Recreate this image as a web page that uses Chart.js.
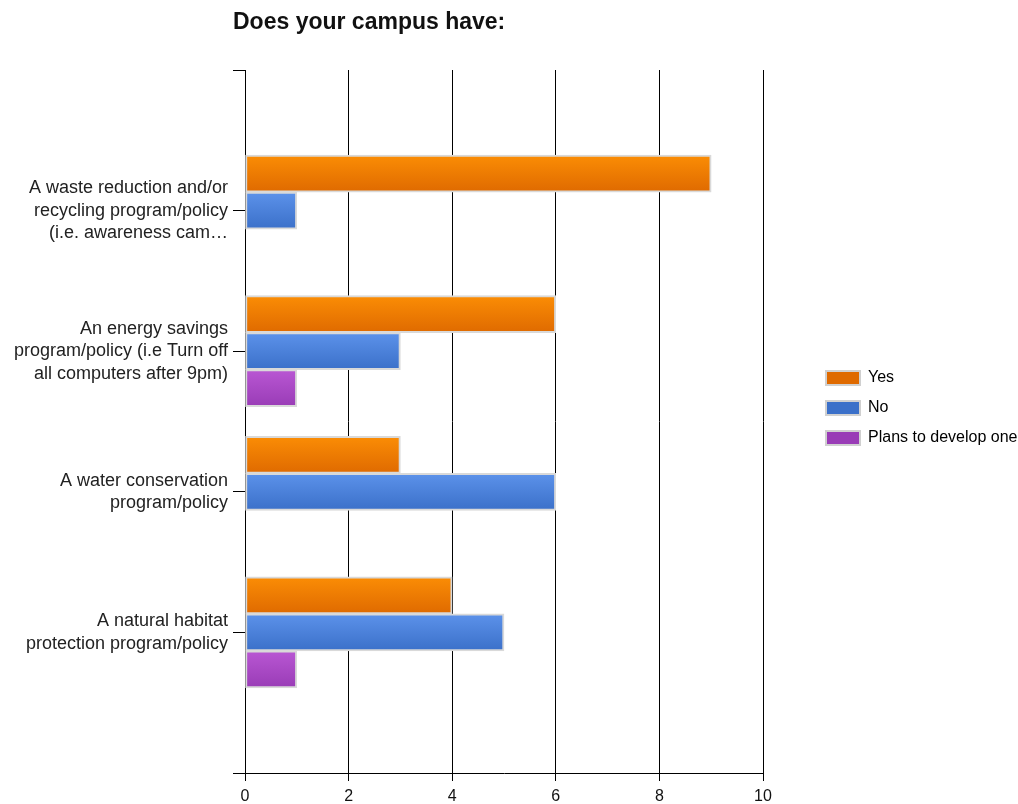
<!DOCTYPE html>
<html>
<head>
<meta charset="utf-8">
<title>Does your campus have:</title>
<script src="https://cdn.jsdelivr.net/npm/chart.js@4.4.1/dist/chart.umd.min.js"></script>
<style>
    html, body { margin: 0; padding: 0; background: #fff; }
    #wrap { position: relative; width: 1018px; height: 804px; }
</style>
</head>
<body>
<div id="wrap"><canvas id="canvas_grafico"></canvas></div>
<script>
const chartTitle = 'Does your campus have:';

const programas = [
    ['A waste reduction and/or', 'recycling program/policy', '(i.e. awareness cam…'],
    ['An energy savings', 'program/policy (i.e Turn off', 'all computers after 9pm)'],
    ['A water conservation', 'program/policy'],
    ['A natural habitat', 'protection program/policy']
];

const seriesNames = ['Yes', 'No', 'Plans to develop one'];
const yesCounts = [9, 6, 3, 4];
const noCounts = [1, 3, 6, 5];
const plansCounts = [0, 1, 0, 1];

const xTickMin = 0;
const xTickMax = 10;
const xTickStep = 2;

// top / bottom colour of each bar gradient
const barColors = [
    ['#fb8d05', '#df6a00'],   // Yes
    ['#5c92ea', '#3b70c9'],   // No
    ['#b957d3', '#993cb6']    // Plans to develop one
];

const BAR_H = 37;
const FONT = '"Liberation Sans", Arial, sans-serif';

// empty slots above and below so the ticks land on the plot edges
const labels = [''].concat(programas, ['']);
function pad(values) {
    return [null].concat(values, [null]);
}

function barFill(index) {
    const top = barColors[index][0];
    const bottom = barColors[index][1];
    return function(c) {
        const ys = c.chart.scales.y;
        if (!ys || c.dataIndex === undefined) {
            return bottom;
        }
        const center = ys.getPixelForValue(c.dataIndex) + (c.datasetIndex - 1) * BAR_H;
        const g = c.chart.ctx.createLinearGradient(0, center - BAR_H / 2, 0, center + BAR_H / 2);
        g.addColorStop(0, top);
        g.addColorStop(1, bottom);
        return g;
    };
}

const tituloPlugin = {
    id: 'tituloEsquerda',
    afterDraw(chart) {
        const ctx = chart.ctx;
        ctx.save();
        ctx.font = 'bold 23px ' + FONT;
        ctx.fillStyle = '#111';
        ctx.textAlign = 'left';
        ctx.textBaseline = 'alphabetic';
        ctx.fillText(chartTitle, chart.chartArea.left - 12, 29);
        ctx.restore();
    }
};

// pushes the legend away from the plot, towards the right edge
const legendaPlugin = {
    id: 'legendaDireita',
    afterLayout(chart) {
        const lg = chart.legend;
        if (!lg) return;
        const w = lg.right - lg.left;
        lg.left = 812;
        lg.right = lg.left + w;
    }
};

const allCounts = [yesCounts, noCounts, plansCounts];

const ctx = document.getElementById('canvas_grafico').getContext('2d');
new Chart(ctx, {
    type: 'bar',
    data: {
        labels: labels,
        datasets: seriesNames.map(function(name, i) {
            return {
                label: name,
                data: pad(allCounts[i]),
                backgroundColor: barFill(i),
                borderColor: '#d9d9d9',
                borderWidth: 2,
                borderSkipped: false,
                barThickness: BAR_H
            };
        })
    },
    options: {
        indexAxis: 'y',
        responsive: true,
        maintainAspectRatio: false,
        animation: false,
        layout: {
            padding: { top: 12, left: 0, right: 0, bottom: 0 }
        },
        scales: {
            x: {
                min: xTickMin,
                max: xTickMax,
                afterFit: function(scale) {
                    // room for the title above and the legend on the right
                    scale.height = 31;
                    scale.paddingTop = 70;
                    scale.paddingRight = 255;
                },
                ticks: {
                    stepSize: xTickStep,
                    color: '#111',
                    padding: 6,
                    font: { size: 16, family: FONT }
                },
                grid: {
                    color: '#000',
                    lineWidth: 1,
                    tickLength: 8
                },
                border: { color: '#000', width: 1 }
            },
            y: {
                offset: false,
                z: 1,
                afterFit: function(scale) {
                    scale.width = 245;
                },
                ticks: {
                    color: '#222',
                    padding: 5,
                    autoSkip: false,
                    font: { size: 18, family: FONT, lineHeight: 1.25 }
                },
                grid: {
                    offset: false,
                    drawOnChartArea: false,
                    color: '#000',
                    tickLength: 12
                },
                border: { color: '#000', width: 1 }
            }
        },
        plugins: {
            title: { display: false },
            tooltip: { enabled: false },
            legend: {
                display: true,
                position: 'right',
                fullSize: true,
                labels: {
                    boxWidth: 34,
                    boxHeight: 14,
                    padding: 14,
                    color: '#222',
                    font: { size: 16, family: FONT },
                    generateLabels: function(chart) {
                        return chart.data.datasets.map(function(ds, index) {
                            return {
                                text: ds.label,
                                fillStyle: barColors[index][1],
                                strokeStyle: '#d0d0d0',
                                lineWidth: 2,
                                hidden: false,
                                datasetIndex: index
                            };
                        });
                    }
                }
            }
        }
    },
    plugins: [tituloPlugin, legendaPlugin]
});
</script>
</body>
</html>
